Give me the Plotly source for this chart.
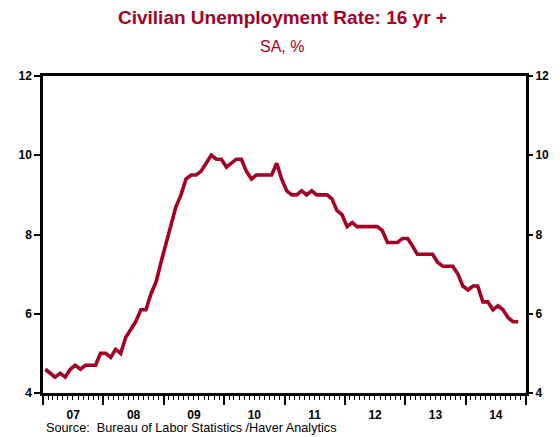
import plotly.graph_objects as go
import pandas as pd

# Monthly civilian unemployment rate, 16 yr +, SA, %  (Jan 2007 - Nov 2014)
rate_2007 = [4.6, 4.5, 4.4, 4.5, 4.4, 4.6, 4.7, 4.6, 4.7, 4.7, 4.7, 5.0]
rate_2008 = [5.0, 4.9, 5.1, 5.0, 5.4, 5.6, 5.8, 6.1, 6.1, 6.5, 6.8, 7.3]
rate_2009 = [7.8, 8.3, 8.7, 9.0, 9.4, 9.5, 9.5, 9.6, 9.8, 10.0, 9.9, 9.9]
rate_2010 = [9.7, 9.8, 9.9, 9.9, 9.6, 9.4, 9.5, 9.5, 9.5, 9.5, 9.8, 9.4]
rate_2011 = [9.1, 9.0, 9.0, 9.1, 9.0, 9.1, 9.0, 9.0, 9.0, 8.9, 8.6, 8.5]
rate_2012 = [8.2, 8.3, 8.2, 8.2, 8.2, 8.2, 8.2, 8.1, 7.8, 7.8, 7.8, 7.9]
rate_2013 = [7.9, 7.7, 7.5, 7.5, 7.5, 7.5, 7.3, 7.2, 7.2, 7.2, 7.0, 6.7]
rate_2014 = [6.6, 6.7, 6.7, 6.3, 6.3, 6.1, 6.2, 6.1, 5.9, 5.8, 5.8]

values = (rate_2007 + rate_2008 + rate_2009 + rate_2010 + rate_2011
          + rate_2012 + rate_2013 + rate_2014)
dates = pd.date_range("2007-01-01", periods=len(values), freq="MS") + pd.Timedelta(days=14)

title_text = "Civilian Unemployment Rate: 16 yr +"
subtitle_text = "SA, %"
source_text = "Source:  Bureau of Labor Statistics /Haver Analytics"
y_ticks = [4, 6, 8, 10, 12]

RED = "#A50026"
FONT = "Arial, Liberation Sans, sans-serif"
x_range = ["2007-01-01", "2015-01-01"]

W, H = 560, 437
ML, MR, MT, MB = 43, 34, 76, 44

fig = go.Figure()
fig.add_trace(go.Scatter(x=dates, y=values, mode="lines",
                         line=dict(color=RED, width=3.6), hoverinfo="skip",
                         showlegend=False))
# invisible companions so the right axis and quarter-tick axis render
fig.add_trace(go.Scatter(x=dates, y=values, mode="lines", yaxis="y2",
                         line=dict(color="rgba(0,0,0,0)", width=0),
                         hoverinfo="skip", showlegend=False))
fig.add_trace(go.Scatter(x=dates, y=values, mode="lines", xaxis="x2",
                         line=dict(color="rgba(0,0,0,0)", width=0),
                         hoverinfo="skip", showlegend=False))

tickfont = dict(family=FONT, size=12, color="black", weight="bold")

plot_h = H - MT - MB
plot_w = W - ML - MR
def py(ypix):
    return (H - MB - ypix) / plot_h
def px(xpix):
    return (xpix - ML) / plot_w

fig.update_layout(
    width=W, height=H,
    margin=dict(l=ML, r=MR, t=MT, b=MB),
    paper_bgcolor="white", plot_bgcolor="white",
    xaxis=dict(
        range=x_range, type="date",
        tick0="2007-01-01", dtick="M12", tickformat="%y",
        ticklabelmode="period", ticks="outside", ticklen=9, tickwidth=1.5,
        tickcolor="black",
        minor=dict(dtick="M1", tick0="2007-01-01", ticks="outside",
                   ticklen=4, tickwidth=1, tickcolor="black", showgrid=False),
        showline=True, linecolor="black", linewidth=2.5, mirror=True,
        showgrid=False, zeroline=False, tickfont=tickfont,
    ),
    xaxis2=dict(
        range=x_range, type="date", overlaying="x", side="bottom", anchor="y",
        tick0="2007-01-01", dtick="M3", ticks="outside", ticklen=6,
        tickwidth=1, tickcolor="black", showticklabels=False,
        showline=False, showgrid=False, zeroline=False,
    ),
    yaxis=dict(
        range=[4, 12], tickvals=y_ticks, ticks="outside", ticklen=6,
        tickwidth=1.5, tickcolor="black",
        showline=True, linecolor="black", linewidth=2.5, mirror=True,
        showgrid=False, zeroline=False, tickfont=tickfont,
    ),
    yaxis2=dict(
        range=[4, 12], tickvals=y_ticks, overlaying="y", side="right",
        anchor="x", ticks="outside", ticklen=6, tickwidth=1.5,
        tickcolor="black", showline=False, showgrid=False, zeroline=False,
        tickfont=tickfont,
    ),
    annotations=[
        dict(text=title_text, x=px(282), y=py(17), xref="paper", yref="paper",
             xanchor="center", yanchor="middle", showarrow=False,
             font=dict(family=FONT, size=19, color=RED, weight="bold")),
        dict(text=subtitle_text, x=px(282), y=py(47), xref="paper", yref="paper",
             xanchor="center", yanchor="middle", showarrow=False,
             font=dict(family=FONT, size=16, color=RED)),
        dict(text=source_text, x=px(44), y=py(428), xref="paper", yref="paper",
             xanchor="left", yanchor="middle", showarrow=False,
             font=dict(family=FONT, size=12.7, color="black")),
    ],
)

fig.write_html("out.html", config={"displayModeBar": False},
               post_script="document.body.style.margin='0';document.body.style.padding='0';")
